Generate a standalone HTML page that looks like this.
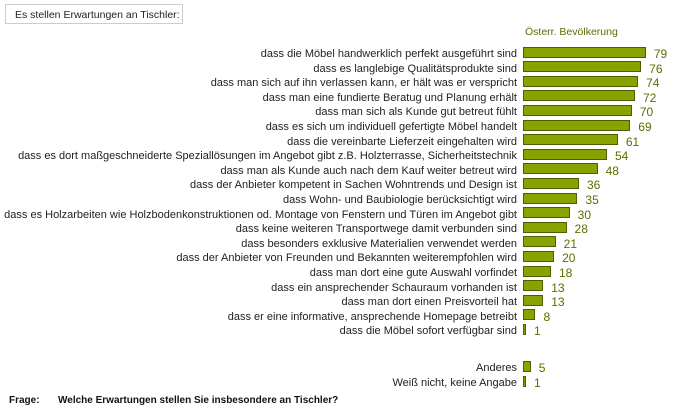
<!DOCTYPE html>
<html><head><meta charset="utf-8"><style>
body{margin:0;width:681px;height:411px;background:#fff;font-family:"Liberation Sans",sans-serif;position:relative;overflow:hidden}
.l{position:absolute;right:164px;font-size:11px;color:#222;white-space:nowrap;line-height:12px}
.b{position:absolute;left:523px;height:11px;background:#86a300;border:1px solid #4d5e00;box-sizing:border-box}
.v{position:absolute;font-size:12px;color:#5a6e00;line-height:12px}
</style></head><body>
<div style="position:absolute;left:5px;top:4px;width:178px;height:20px;border:1px solid #ccc;box-sizing:border-box;font-size:10.5px;padding:4px 0 0 9px;color:#222">Es stellen Erwartungen an Tischler:</div>
<div style="position:absolute;left:525px;top:26px;font-size:10.5px;color:#5a6e00">Österr. Bevölkerung</div>
<div id="c"></div>
<div style="position:absolute;left:9px;top:395px;font-size:10px;font-weight:bold;color:#111">Frage:</div>
<div style="position:absolute;left:58px;top:395px;font-size:10px;font-weight:bold;color:#111">Welche Erwartungen stellen Sie insbesondere an Tischler?</div>
<script>
var d=[["dass die Möbel handwerklich perfekt ausgeführt sind",79],["dass es langlebige Qualitätsprodukte sind",76],["dass man sich auf ihn verlassen kann, er hält was er verspricht",74],["dass man eine fundierte Beratug und Planung erhält",72],["dass man sich als Kunde gut betreut fühlt",70],["dass es sich um individuell gefertigte Möbel handelt",69],["dass die vereinbarte Lieferzeit eingehalten wird",61],["dass es dort maßgeschneiderte Speziallösungen im Angebot gibt z.B. Holzterrasse, Sicherheitstechnik",54],["dass man als Kunde auch nach dem Kauf weiter betreut wird",48],["dass der Anbieter kompetent in Sachen Wohntrends und Design ist",36],["dass Wohn- und Baubiologie berücksichtigt wird",35],["dass es Holzarbeiten wie Holzbodenkonstruktionen od. Montage von Fenstern und Türen im Angebot gibt",30],["dass keine weiteren Transportwege damit verbunden sind",28],["dass besonders exklusive Materialien verwendet werden",21],["dass der Anbieter von Freunden und Bekannten weiterempfohlen wird",20],["dass man dort eine gute Auswahl vorfindet",18],["dass ein ansprechender Schauraum vorhanden ist",13],["dass man dort einen Preisvorteil hat",13],["dass er eine informative, ansprechende Homepage betreibt",8],["dass die Möbel sofort verfügbar sind",1]];
var h="";
function row(t,v,y){var w=Math.max(3,v*1.555);h+='<div class="l" style="top:'+(y-4)+'px">'+t+'</div><div class="b" style="top:'+(y-5.5)+'px;width:'+w+'px"></div><div class="v" style="left:'+(523+w+8)+'px;top:'+(y-4)+'px">'+v+'</div>';}
d.forEach(function(r,i){row(r[0],r[1],52+i*14.6)});
row("Anderes",5,366);row("Weiß nicht, keine Angabe",1,381);
document.getElementById("c").innerHTML=h;
</script>
</body></html>
